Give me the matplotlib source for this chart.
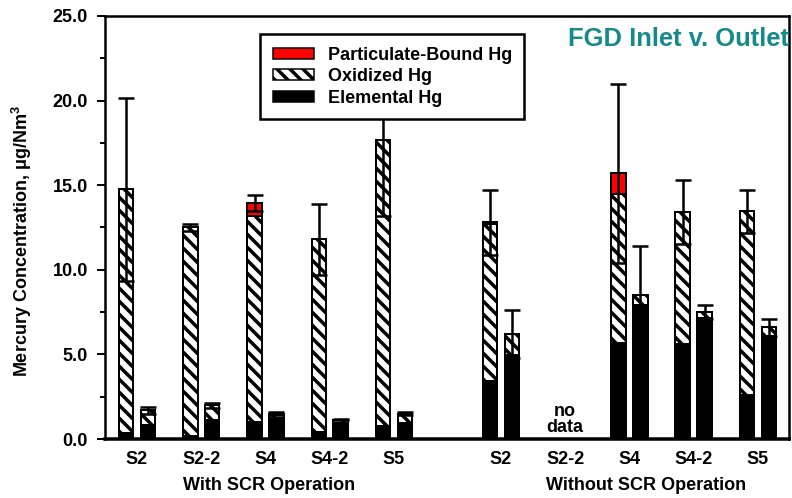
import numpy as np
import matplotlib
matplotlib.use("Agg")
import matplotlib.pyplot as plt
from matplotlib.patches import Patch
from matplotlib.ticker import MultipleLocator, FormatStrFormatter

# data (ug/Nm3)
sites = ["S2", "S2-2", "S4", "S4-2", "S5"]
groups = ["With SCR Operation", "Without SCR Operation"]

# with SCR
scr_in_elem = [0.35, 0.2, 1.0, 0.4, 0.75]
scr_in_total = [14.75, 12.5, 13.95, 11.8, 17.65]
scr_in_part = [0.0, 0.0, 0.75, 0.0, 0.0]
scr_in_err = [5.4, 0.2, 0.5, 2.1, 4.45]
scr_out_elem = [0.85, 1.1, 1.25, 0.95, 0.95]
scr_out_total = [1.7, 2.0, 1.5, 1.15, 1.5]
scr_out_part = [0.0, 0.0, 0.0, 0.0, 0.0]
scr_out_err = [0.2, 0.15, 0.1, 0.05, 0.1]

# without SCR (S2-2 has no data)
noscr_in_elem = [3.4, np.nan, 5.65, 5.6, 2.6]
noscr_in_total = [12.8, np.nan, 15.7, 13.4, 13.45]
noscr_in_part = [0.1, np.nan, 1.2, 0.0, 0.0]
noscr_in_err = [1.9, np.nan, 5.3, 1.9, 1.25]
noscr_out_elem = [4.95, np.nan, 7.9, 7.15, 6.1]
noscr_out_total = [6.2, np.nan, 8.5, 7.5, 6.6]
noscr_out_part = [0.0, np.nan, 0.0, 0.0, 0.0]
noscr_out_err = [1.4, np.nan, 2.9, 0.4, 0.5]

DPI = 156
P = 72 / DPI  # px -> pt

plt.rcParams["font.family"] = ["Liberation Sans", "DejaVu Sans"]
plt.rcParams["font.weight"] = "bold"
plt.rcParams["mathtext.fontset"] = "custom"
plt.rcParams["mathtext.rm"] = "Liberation Sans"
plt.rcParams["mathtext.bf"] = "Liberation Sans:bold"
plt.rcParams["hatch.linewidth"] = 3.5 * P
plt.rcParams["hatch.color"] = "black"

FS = 18 * P
RED = "#ff0000"
TEAL = "#16898a"

fig = plt.figure(figsize=(792 / DPI, 498 / DPI), dpi=DPI)
ax = fig.add_axes([105 / 792, 1 - 439 / 498, (789 - 105) / 792, (439 - 16) / 498])

width = 0.226
off = 0.17
g2 = 5.665
x1 = np.arange(len(sites))
x2 = x1 + g2


def stack(x, elem, total, part, err):
    elem = np.array(elem, float)
    total = np.array(total, float)
    part = np.array(part, float)
    ox = total - elem - part
    kw = dict(width=width, edgecolor="black", linewidth=2 * P, zorder=2)
    ax.bar(x, elem, color="black", **kw)
    ax.bar(x, ox, bottom=elem, color="white", hatch="\\\\\\\\", **kw)
    ax.bar(x, part, bottom=elem + ox, color=RED, **kw)
    ax.errorbar(x, total, yerr=err, fmt="none", ecolor="black",
                elinewidth=2.5 * P, capsize=8 * P, capthick=2.5 * P, zorder=3)


stack(x1 - off, scr_in_elem, scr_in_total, scr_in_part, scr_in_err)
stack(x1 + off, scr_out_elem, scr_out_total, scr_out_part, scr_out_err)
stack(x2 - off, noscr_in_elem, noscr_in_total, noscr_in_part, noscr_in_err)
stack(x2 + off, noscr_out_elem, noscr_out_total, noscr_out_part, noscr_out_err)

ax.text(x2[1], 0.15, "no\ndata", ha="center", va="bottom", fontsize=FS,
        fontweight="bold", linespacing=0.95)

ax.set_xlim(-0.498, 10.15)
ax.set_ylim(0, 25)
ax.yaxis.set_major_locator(MultipleLocator(5))
ax.yaxis.set_minor_locator(MultipleLocator(2.5))
ax.yaxis.set_major_formatter(FormatStrFormatter("%.1f"))
ax.tick_params(axis="y", which="major", direction="out", length=8 * P,
               width=2 * P, pad=9 * P, labelsize=FS)
ax.tick_params(axis="y", which="minor", direction="out", length=5 * P,
               width=2 * P)
ax.set_xticks(np.concatenate([x1, x2]))
ax.set_xticklabels(sites + sites)
ax.tick_params(axis="x", length=0, pad=12 * P, labelsize=FS)
for lab in ax.get_xticklabels() + ax.get_yticklabels():
    lab.set_fontweight("bold")

for side in ["left", "top", "right"]:
    ax.spines[side].set_linewidth(2.5 * P)
ax.spines["bottom"].set_linewidth(3.5 * P)

trans = matplotlib.transforms.blended_transform_factory(ax.transData, ax.transAxes)
ax.text(2.05, -0.11, groups[0], transform=trans, ha="center", va="center",
        fontsize=FS, fontweight="bold")
ax.text(7.92, -0.11, groups[1], transform=trans, ha="center", va="center",
        fontsize=FS, fontweight="bold")

fig.text(22 / 792, 1 - 241 / 498, r"Mercury Concentration, μg/Nm$^{\mathbf{3}}$",
         rotation=90, ha="center", va="center", fontsize=FS, fontweight="bold")

ax.text(0.677, 0.945, "FGD Inlet v. Outlet", transform=ax.transAxes,
        ha="left", va="center", fontsize=25.5 * P, fontweight="bold", color=TEAL)

handles = [
    Patch(facecolor=RED, edgecolor="black", linewidth=1.5 * P),
    Patch(facecolor="white", edgecolor="black", hatch="\\\\\\\\", linewidth=1.5 * P),
    Patch(facecolor="black", edgecolor="black", linewidth=1.5 * P),
]
labels = ["Particulate-Bound Hg", "Oxidized Hg", "Elemental Hg"]
leg = ax.legend(handles, labels, loc="upper left",
                bbox_to_anchor=(260 / 792, 1 - 34 / 498),
                bbox_transform=fig.transFigure, borderaxespad=0,
                fancybox=False, framealpha=1, edgecolor="black",
                prop={"size": FS, "weight": "bold"},
                handlelength=2.3, handleheight=0.55, handletextpad=0.75,
                labelspacing=0.25, borderpad=0.7)
leg.get_frame().set_linewidth(2.5 * P)
leg.set_zorder(5)

fig.savefig("out.png", dpi=DPI)
